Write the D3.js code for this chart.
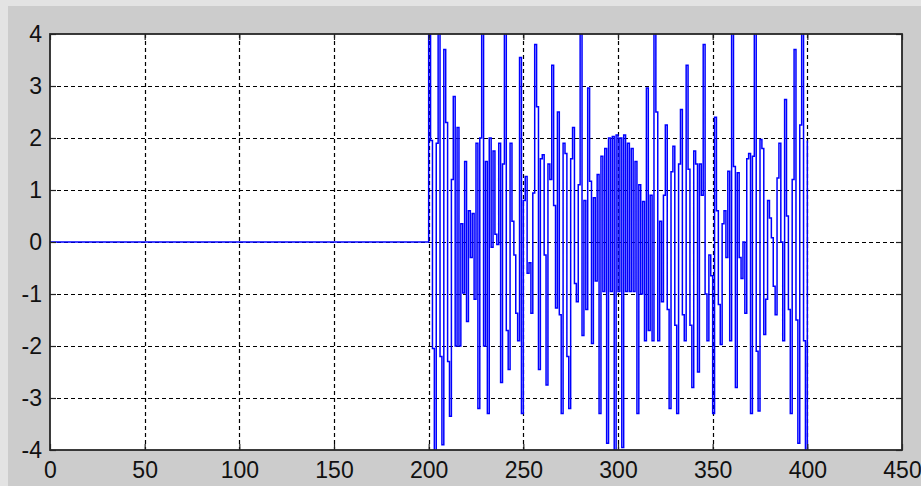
<!DOCTYPE html>
<html>
<head>
<meta charset="utf-8">
<script src="https://cdn.jsdelivr.net/npm/d3@7"></script>
<style>
  html, body { margin: 0; padding: 0; background: #cccccc; }
  svg { display: block; }
  .tick-label { font-family: Arial, "Liberation Sans", sans-serif; font-size: 23px; fill: #111; }
</style>
</head>
<body>
<div id="chart"></div>
<script>
// samples 0..199 are flat zero, then the burst starts at sample 200
const QUIET = [0, 199]
const BURST_START = 200
const BURST = [
  4.5, 1.95, -2.05, -4.2, 1.9, 4.3, -2.2, -3.9, 3.7, 2.3,
  -2.3, -3.35, 1.2, 2.8, -2.0, 2.2, -2.0, 0.35, -0.98, 1.55,
  -1.53, 0.6, -0.3, 0.55, -1.1, 1.9, -3.2, 2.0, 4.3, -2.0,
  1.55, -3.3, 2.0, -0.1, 1.75, 0.15, -0.05, 1.9, -2.7, 1.5,
  4.3, -1.7, -2.45, 1.9, 0.4, -0.25, -1.37, -1.9, 3.55, -3.3,
  0.8, 1.26, -0.6, -0.4, -1.37, 0.94, 3.8, 2.6, -2.45, 1.6,
  1.68, -0.25, -2.75, 1.5, 1.2, 3.4, 0.7, -1.27, 2.5, -1.4,
  -3.3, 1.9, 1.7, -2.2, -3.2, 1.6, 2.2, -0.8, -1.15, 1.1,
  4.3, -1.8, 0.8, -1.3, 2.96, 1.17, -1.95, 0.85, -0.75, 1.3,
  -3.3, 1.65, -0.95, 1.8, -3.87, 2.0, -0.95, 2.03, -4.2, 2.06,
  -0.95, 2.0, -3.95, 2.06, -0.95, 1.9, -0.95, 1.8, -0.95, 1.55,
  -3.3, 1.1, -1.0, 0.78, -1.9, 2.96, -1.7, 0.9, -1.9, 4.3,
  2.5, -1.9, 0.4, -1.15, 0.9, 2.25, -1.3, -3.2, 1.35, 1.84,
  -1.6, -3.3, 1.5, 2.55, -1.4, -1.9, 3.4, 1.4, -1.6, -2.8,
  1.75, 1.5, -2.5, 1.5, 0.9, 3.8, -1.0, -1.9, -0.25, -0.65,
  -3.3, 2.4, 0.6, -1.2, -1.97, 0.35, 0.6, -0.3, 1.36, -1.9,
  4.3, 1.45, -2.8, 1.33, -0.3, -0.7, 0.0, -1.37, 1.6, 1.7,
  -3.3, 1.65, 4.3, -2.1, -3.25, 1.97, 1.8, -1.78, -1.1, 0.8,
  0.46, 0.08, -0.85, -1.4, 1.23, 1.9, 0.0, -1.9, 2.74, 0.5,
  -1.3, -3.3, 1.2, 3.7, -1.5, -3.87, 2.25, 4.3, -1.9, -4.5,
  1.95
]
const X_TICKS = [0, 50, 100, 150, 200, 250, 300, 350, 400, 450]
const Y_TICKS = [-4, -3, -2, -1, 0, 1, 2, 3, 4]

const W = 921, H = 486
const M = { TOP: 34, BOTTOM: 36, LEFT: 50, RIGHT: 19 }

const svg = d3.select("#chart").append("svg")
    .attr("width", W)
    .attr("height", H)

// lighter window edge on top and left
svg.append("rect").attr("x", 0).attr("y", 0).attr("width", W).attr("height", 6).attr("fill", "#e3e3e3")
svg.append("rect").attr("x", 0).attr("y", 0).attr("width", 8).attr("height", H).attr("fill", "#e3e3e3")

const x = d3.scaleLinear().domain([0, 450]).range([M.LEFT, W - M.RIGHT])
const y = d3.scaleLinear().domain([-4, 4]).range([H - M.BOTTOM, M.TOP])

svg.append("rect")
    .attr("x", x(0)).attr("y", y(4))
    .attr("width", x(450) - x(0)).attr("height", y(-4) - y(4))
    .attr("fill", "#fff")

svg.append("clipPath").attr("id", "plot-clip")
    .append("rect")
    .attr("x", x(0)).attr("y", y(4))
    .attr("width", x(450) - x(0)).attr("height", y(-4) - y(4))

// dashed grid
const grid = svg.append("g").attr("stroke", "#000").attr("stroke-width", 1.2).attr("stroke-dasharray", "4,3")
grid.selectAll(".gx").data(X_TICKS.slice(1, -1)).enter()
    .append("line")
    .attr("x1", d => Math.round(x(d)) + 0.5).attr("x2", d => Math.round(x(d)) + 0.5)
    .attr("y1", y(4)).attr("y2", y(-4))
grid.selectAll(".gy").data(Y_TICKS.slice(1, -1)).enter()
    .append("line")
    .attr("y1", d => Math.round(y(d)) + 0.5).attr("y2", d => Math.round(y(d)) + 0.5)
    .attr("x1", x(0)).attr("x2", x(450))

// signal, drawn as a stairs plot
const points = [[QUIET[0], 0], [QUIET[1], 0]].concat(BURST.map((v, i) => [BURST_START + i, v]))
const line = d3.line().curve(d3.curveStepAfter).x(d => x(d[0])).y(d => y(d[1]))

svg.append("path")
    .datum(points)
    .attr("clip-path", "url(#plot-clip)")
    .attr("fill", "none")
    .attr("stroke", "#0000ff")
    .attr("stroke-width", 1.5)
    .attr("d", line)

// axes with inward ticks, on all four sides
const plain = d => String(d)
const axisStyle = g => {
    g.select(".domain").remove()
    g.selectAll(".tick line").attr("stroke", "#222").attr("stroke-width", 1.2)
}
svg.append("g").attr("transform", `translate(0,${y(-4)})`)
    .call(d3.axisBottom(x).tickValues(X_TICKS).tickSize(-6).tickPadding(12).tickFormat(plain))
    .call(axisStyle)
    .selectAll("text").attr("class", "tick-label").attr("fill", null)
svg.append("g").attr("transform", `translate(0,${y(4)})`)
    .call(d3.axisTop(x).tickValues(X_TICKS).tickSize(-6).tickFormat(""))
    .call(axisStyle)
svg.append("g").attr("transform", `translate(${x(0)},0)`)
    .call(d3.axisLeft(y).tickValues(Y_TICKS).tickSize(-6).tickPadding(8).tickFormat(plain))
    .call(axisStyle)
    .selectAll("text").attr("class", "tick-label").attr("fill", null)
svg.append("g").attr("transform", `translate(${x(450)},0)`)
    .call(d3.axisRight(y).tickValues(Y_TICKS).tickSize(-6).tickFormat(""))
    .call(axisStyle)

// box
svg.append("rect")
    .attr("x", x(0)).attr("y", y(4))
    .attr("width", x(450) - x(0)).attr("height", y(-4) - y(4))
    .attr("fill", "none")
    .attr("stroke", "#262626")
    .attr("stroke-width", 1.8)

svg.selectAll(".tick-label").attr("font-family", null).attr("font-size", null)
</script>
</body>
</html>
